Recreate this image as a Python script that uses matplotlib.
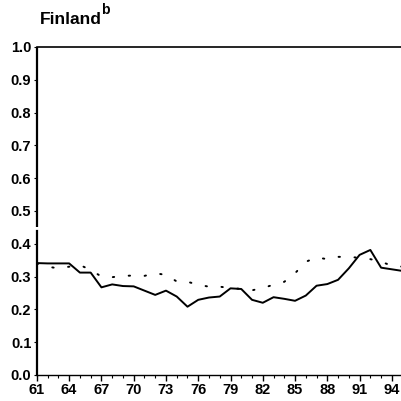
import matplotlib
matplotlib.use("Agg")
import matplotlib.pyplot as plt
import numpy as np

years = list(range(61, 96))
solid = [0.341, 0.340, 0.340, 0.340, 0.312, 0.312, 0.267, 0.276, 0.271, 0.270,
         0.257, 0.244, 0.257, 0.239, 0.208, 0.229, 0.236, 0.239, 0.264, 0.262,
         0.229, 0.220, 0.237, 0.232, 0.226, 0.242, 0.272, 0.277, 0.290, 0.325,
         0.366, 0.381, 0.327, 0.322, 0.317]
dotted = [0.340, 0.330, 0.325, 0.330, 0.335, 0.320, 0.300, 0.298, 0.302, 0.303,
          0.302, 0.310, 0.305, 0.285, 0.284, 0.275, 0.269, 0.269, 0.265, 0.262,
          0.258, 0.265, 0.275, 0.284, 0.310, 0.345, 0.358, 0.353, 0.360, 0.360,
          0.357, 0.353, 0.345, 0.333, 0.330]
xticks = list(range(61, 95, 3))
yticks = [round(0.1 * i, 1) for i in range(11)]
title = "Finland"
title_sup = "b"

plt.rcParams['font.family'] = ['Liberation Sans', 'DejaVu Sans']
fig = plt.figure(figsize=(4.01, 4.01), dpi=100)
ax = fig.add_axes([0.092, 0.065, 0.908, 0.818])

ax.plot(years, solid, color='black', lw=1.4, solid_joinstyle='round')
ax.plot(years, dotted, color='black', lw=1.4, linestyle=(0, (0.7, 7.5)),
        dash_capstyle='round')

ax.set_xlim(61, 94.85)
ax.set_ylim(0, 1.0)
ax.spines['right'].set_visible(False)
ax.spines['top'].set_linewidth(1.2)
ax.spines['bottom'].set_linewidth(1.0)
ax.spines['left'].set_linewidth(1.6)
ax.spines['left'].set_bounds(0, 0.44)
ax.plot([61, 61], [0.45, 1.0], color='black', lw=1.6, clip_on=False,
        solid_capstyle='butt')

ax.set_xticks(xticks)
ax.set_xticklabels([str(t) for t in xticks], fontweight='bold', fontsize=10.5)
ax.set_xticks(years[:-1], minor=True)
ax.set_yticks(yticks)
ax.set_yticklabels([f"{t:.1f}" for t in yticks], fontweight='bold', fontsize=10.5)
ax.tick_params(axis='x', which='major', direction='out', length=4, width=1.0, pad=2)
ax.tick_params(axis='x', which='minor', direction='out', length=2, width=0.8)
ax.tick_params(axis='y', which='major', direction='out', length=2, width=0.8, pad=2)

fig.text(0.1, 0.952, title, fontsize=12.5, fontweight='bold', ha='left', va='center')
fig.text(0.252, 0.975, title_sup, fontsize=10, fontweight='bold', ha='left', va='center')

fig.savefig("out.png", dpi=100)
